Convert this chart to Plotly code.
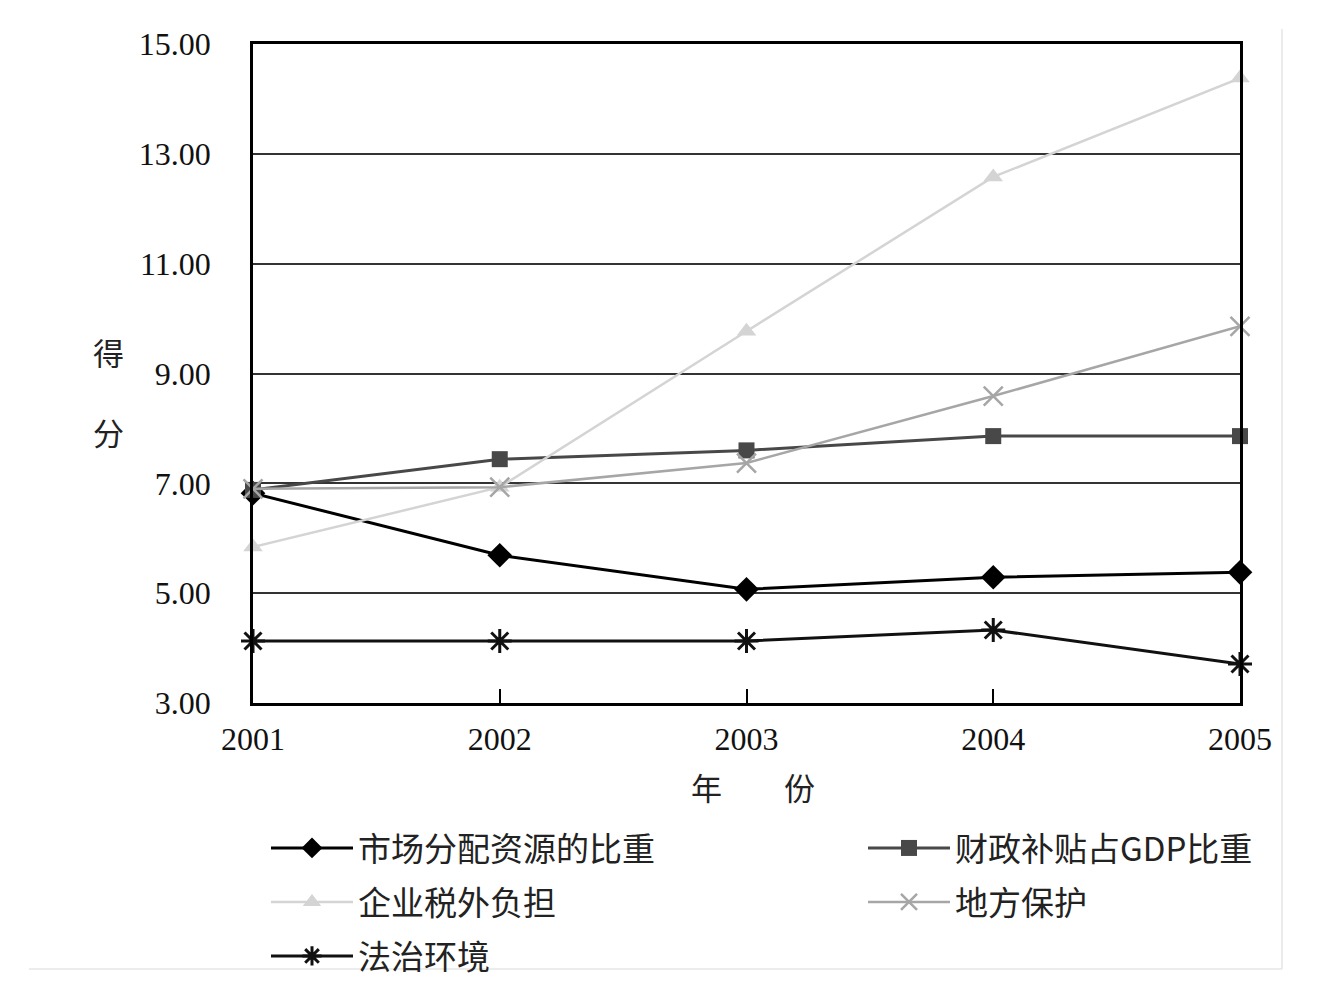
import plotly.graph_objects as go

years = [2001, 2002, 2003, 2004, 2005]
y_ticks = [3, 5, 7, 9, 11, 13, 15]

names = ["市场分配资源的比重", "财政补贴占GDP比重", "企业税外负担", "地方保护", "法治环境"]
market_share = [6.82, 5.69, 5.07, 5.29, 5.38]
fiscal_subsidy = [6.88, 7.44, 7.60, 7.86, 7.86]
tax_burden = [5.84, 6.93, 9.77, 12.58, 14.38]
local_protect = [6.90, 6.93, 7.37, 8.59, 9.86]
rule_of_law = [4.13, 4.13, 4.13, 4.33, 3.71]

series = [market_share, fiscal_subsidy, tax_burden, local_protect, rule_of_law]
legend_ids = ["legend", "legend2", "legend3", "legend4", "legend5"]
styles = [
    dict(color="#000000", symbol="diamond", size=19, lw=3, mline=0),
    dict(color="#484848", symbol="square", size=16, lw=3, mline=0),
    dict(color="#d4d4d4", symbol="triangle-up", size=17, lw=2.5, mline=0),
    dict(color="#a6a6a6", symbol="x-thin-open", size=19, lw=2.5, mline=2.5),
    dict(color="#111111", symbol="asterisk-open", size=20, lw=3, mline=3),
]

fig = go.Figure()
for name, vals, st, lg in zip(names, series, styles, legend_ids):
    fig.add_trace(go.Scatter(
        x=years, y=vals, name=name, mode="lines+markers",
        line=dict(color=st["color"], width=st["lw"]),
        marker=dict(symbol=st["symbol"], size=st["size"], color=st["color"],
                    line=dict(color=st["color"], width=st["mline"])),
        cliponaxis=False, legend=lg,
    ))

serif = "Liberation Serif, Times New Roman, serif"
cjk = "Noto Sans CJK SC, sans-serif"

# target plot area (page pixels): x 252..1239, y 43..702 ; page offset ~7px
L, T, W, H = 245, 36, 987, 659
PL, PB = 252, 702  # plot left / bottom in page pixels


def leg(xpx, ypx):
    return dict(
        orientation="h", xref="paper", yref="paper",
        x=(xpx - PL) / W, xanchor="left", y=(PB - ypx) / H, yanchor="middle",
        itemwidth=82,
        font=dict(family=cjk, size=33, color="#222222"),
        bgcolor="rgba(0,0,0,0)",
    )


fig.update_layout(
    width=1317, height=993,
    margin=dict(l=L, r=1317 - L - W, t=T, b=993 - T - H, autoexpand=False),
    paper_bgcolor="white", plot_bgcolor="white",
    showlegend=True,
    legend=leg(265, 847), legend2=leg(862, 847),
    legend3=leg(265, 901), legend4=leg(862, 901),
    legend5=leg(265, 955),
    xaxis=dict(
        range=[2001, 2005], tickmode="array", tickvals=years,
        ticktext=[str(y) for y in years],
        showgrid=False, zeroline=False,
        showline=True, linecolor="#000000", linewidth=2.5, mirror=True,
        ticks="inside", ticklen=14, tickwidth=2, tickcolor="#000000",
        ticklabelstandoff=6,
        tickfont=dict(family=serif, size=32, color="#111111"),
    ),
    yaxis=dict(
        range=[3, 15], tickmode="array", tickvals=y_ticks,
        ticktext=[f"{v:.2f}" for v in y_ticks],
        showgrid=True, gridcolor="#333333", gridwidth=2,
        zeroline=False,
        showline=True, linecolor="#000000", linewidth=2.5, mirror=True,
        ticks="", ticklabelstandoff=33,
        tickfont=dict(family=serif, size=32, color="#111111"),
    ),
    annotations=[
        dict(text="年　　份", xref="paper", yref="paper", x=(752 - PL) / W,
             xanchor="center", y=(PB - 785) / H, yanchor="middle",
             showarrow=False, font=dict(family=cjk, size=31, color="#222222")),
        dict(text="得", xref="paper", yref="paper", x=(107 - PL) / W,
             xanchor="center", y=(PB - 350) / H, yanchor="middle",
             showarrow=False, font=dict(family=cjk, size=31, color="#222222")),
        dict(text="分", xref="paper", yref="paper", x=(107 - PL) / W,
             xanchor="center", y=(PB - 430) / H, yanchor="middle",
             showarrow=False, font=dict(family=cjk, size=31, color="#222222")),
    ],
    shapes=[
        dict(type="line", xref="paper", yref="paper", x0=(28 - PL) / W, x1=(1281 - PL) / W,
             y0=(PB - 968) / H, y1=(PB - 968) / H, line=dict(color="#e6e6e6", width=1.5)),
        dict(type="line", xref="paper", yref="paper", x0=(1281 - PL) / W, x1=(1281 - PL) / W,
             y0=(PB - 968) / H, y1=(PB - 28) / H, line=dict(color="#e6e6e6", width=1.5)),
    ],
)

fig.write_html("out.html")
